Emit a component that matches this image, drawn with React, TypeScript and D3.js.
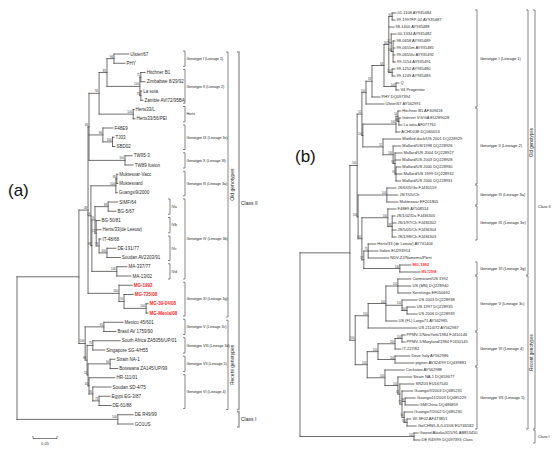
import React from "react";
import * as d3 from "d3";

type Row = [string, string, number, string?];

// ---------- Tree (a): [id, parent, depth (subst./site), bootstrap] ----------
const LEFT_TREE: Row[] = [
  ["root", "", 0],
  ["cII", "root", 0.129],
  ["Old", "cII", 0.148, "49"],
  ["U", "Old", 0.15, "46"],
  ["c91", "U", 0.171, "91"],
  ["GI_II", "c91", 0.1875, "85"],
  ["GI", "GI_II", 0.202, "96"],
  ["Ulster/67", "GI", 0.233],
  ["PHY", "GI", 0.225],
  ["GII", "GI_II", 0.256, "100"],
  ["GIIa", "GII", 0.258, "71"],
  ["Hitchner B1", "GIIa", 0.267],
  ["Zimbabwe 8/29/92", "GIIa", 0.267],
  ["GIIb", "GII", 0.258, "75"],
  ["La sota", "GIIb", 0.26],
  ["Zambie AVI72/95BA", "GIIb", 0.2625],
  ["Herts", "c91", 0.242, "100"],
  ["Herts33/L", "Herts", 0.244],
  ["Herts33/56/PEI", "Herts", 0.246],
  ["F48", "U", 0.179, "96"],
  ["F48E9", "F48", 0.2],
  ["TJSBD", "F48", 0.199, "100"],
  ["TJ03", "TJSBD", 0.202],
  ["SBD02", "TJSBD", 0.204],
  ["TW", "U", 0.225, "100"],
  ["TW95-3", "TW", 0.24],
  ["TW89 fusion", "TW", 0.242],
  ["Mid", "Old", 0.154, "19"],
  ["Mukt", "Mid", 0.206, "100"],
  ["MuktV", "Mukt", 0.208, "80"],
  ["Muktesvar-Vacc", "MuktV", 0.21],
  ["Muktesvard", "MuktV", 0.21],
  ["Guangxi9/2000", "Mukt", 0.209],
  ["G4", "Mid", 0.156, "98"],
  ["G4a", "G4", 0.1625, "19"],
  ["SB", "G4a", 0.19, "88"],
  ["SIMF/64", "SB", 0.21],
  ["BG-5/67", "SB", 0.206],
  ["G4b", "G4a", 0.165, "21"],
  ["BG-50/81", "G4b", 0.173],
  ["Herts/33(de Leeuw)", "G4b", 0.175],
  ["G4c", "G4b", 0.171, "79"],
  ["IT-48/68", "G4c", 0.175],
  ["G4d", "G4c", 0.1875, "100"],
  ["DE-191/77", "G4d", 0.206],
  ["Soudan AV2203/91", "G4d", 0.215],
  ["MA", "G4", 0.208, "100"],
  ["MA-337/77", "MA", 0.229],
  ["MA-13/02", "MA", 0.2375],
  ["MG", "Old", 0.2125, "100"],
  ["MG-1992", "MG", 0.24],
  ["MGb", "MG", 0.223, "55"],
  ["MG-725/08", "MGb", 0.242],
  ["MGc", "MGb", 0.269, "100"],
  ["MG-39-04/08", "MGc", 0.273],
  ["MG-Meola/08", "MGc", 0.273],
  ["Recent", "cII", 0.142, "100"],
  ["MexBra", "Recent", 0.181, "95"],
  ["Mexico 45/601", "MexBra", 0.221],
  ["Brasil AV 1759/90", "MexBra", 0.206],
  ["R2", "Recent", 0.146, "99"],
  ["SAS", "R2", 0.158, "75"],
  ["South Africa ZA5056/UP/01", "SAS", 0.215],
  ["Singapore SG-4/H55", "SAS", 0.183],
  ["R3", "R2", 0.148, "52"],
  ["NAB", "R3", 0.194, "90"],
  ["Strain NA-1", "NAB", 0.204],
  ["Botswana ZA145/UP/99", "NAB", 0.21],
  ["R4", "R3", 0.15, "40"],
  ["HR-111/01", "R4", 0.204],
  ["R5", "R4", 0.158, "76"],
  ["Soudan SD-4/75", "R5", 0.196],
  ["R6", "R5", 0.171, "73"],
  ["Egypt EG-3/87", "R6", 0.194],
  ["DE-61/88", "R6", 0.196],
  ["cI", "root", 0.21, "100"],
  ["DE R49/99", "cI", 0.242],
  ["GO1US", "cI", 0.242],
];
const LEFT_RED = ["MG-1992", "MG-725/08", "MG-39-04/08", "MG-Meola/08"];

// ---------- Tree (b) ----------
const RIGHT_TREE: Row[] = [
  ["root", "", 0],
  ["cII", "root", 0.104],
  ["Old", "cII", 0.119, "100"],
  ["Up", "Old", 0.129, "52"],
  ["GI0", "Up", 0.1375, "100"],
  ["GI1", "GI0", 0.15, "83"],
  ["GI2", "GI1", 0.175, "63"],
  ["AU", "GI2", 0.185, "100"],
  ["au1", "AU", 0.192, "94"],
  ["01-1108 AY935484", "au1", 0.2],
  ["99-1997FP-02 AY935487", "au1", 0.198],
  ["98-1400 AY935488", "AU", 0.196],
  ["au2", "AU", 0.19, "57"],
  ["00-1334 AY935482", "au2", 0.2],
  ["au3", "au2", 0.194, "100"],
  ["98-0658 AY935489", "au3", 0.198],
  ["99-0655m AY935485", "au3", 0.198],
  ["99-0655fu AY935492", "au3", 0.198],
  ["99-1154 AY935491", "au3", 0.199],
  ["au4", "AU", 0.192, "100"],
  ["99-1252 AY935480", "au4", 0.198],
  ["99-1249 AY935483", "au4", 0.198],
  ["QP", "GI2", 0.2, "100"],
  ["Q", "QP", 0.206],
  ["V4 Progenitor", "QP", 0.206],
  ["PHY DQ097394", "GI1", 0.1667],
  ["Ulster/67 AY562991", "GI0", 0.175],
  ["GII0", "Up", 0.131, "100"],
  ["LS", "GII0", 0.2, "100"],
  ["ls1", "LS", 0.204, "54"],
  ["Hitchner B1 AF309418", "ls1", 0.21],
  ["ls2", "ls1", 0.206, "96"],
  ["Intervet VG/GA EU289028", "ls2", 0.21],
  ["La sota AF077761", "ls2", 0.2125],
  ["ACHD038 DQ060053", "LS", 0.208],
  ["MD", "GII0", 0.173, "52"],
  ["Mottled duck/US 2001 DQ228929", "MD", 0.21],
  ["MG2", "MD", 0.194, "100"],
  ["Mallard/US/1998 DQ228926", "MG2", 0.21],
  ["mg3", "MG2", 0.198, "93"],
  ["Mallard/US 2004 DQ228927", "mg3", 0.2125],
  ["Mallard/US 2003 DQ228928", "mg3", 0.21],
  ["mg4", "mg3", 0.2, "81"],
  ["Mallard/US 2000 DQ228930", "mg4", 0.21],
  ["Mallard/US 1999 DQ228932", "mg4", 0.2125],
  ["Mallard/US 2000 DQ228931", "mg4", 0.21],
  ["Low", "Old", 0.121, "100"],
  ["GIII", "Low", 0.181, "100"],
  ["JS/6/05/Go FJ430159", "GIII", 0.2],
  ["JS/7/05/Ch", "GIII", 0.204],
  ["Mukteswar EF201805", "GIII", 0.204],
  ["IXIVXI", "Low", 0.129, "100"],
  ["IX", "IXIVXI", 0.183, "100"],
  ["F48E9 AY508514", "IX", 0.2],
  ["ix1", "IX", 0.192, "88"],
  ["JS/1/02/Du FJ436305", "ix1", 0.198],
  ["JS/1/97/Ch FJ436302", "ix1", 0.2],
  ["JS/5/05/Ch FJ436304", "ix1", 0.2],
  ["JS/1/98/Ch FJ436303", "ix1", 0.2],
  ["IVXI", "IXIVXI", 0.133, "57"],
  ["IV", "IVXI", 0.142, "75"],
  ["Herts/33 (de Leeuw) AY741404", "IV", 0.158],
  ["Italien EU293914", "IV", 0.1625],
  ["NDV-ZJ/Namema/Pleni", "IV", 0.185],
  ["XI", "IVXI", 0.208, "100"],
  ["MG-1992", "XI", 0.231],
  ["MG-725/08", "XI", 0.25],
  ["Recent", "cII", 0.115, "100"],
  ["GV", "Recent", 0.142, "100"],
  ["GVa", "GV", 0.179, "100"],
  ["CormG", "GVa", 0.204, "100"],
  ["Cormorant/US 1992", "CormG", 0.231],
  ["US (MN) DQ228940", "CormG", 0.231],
  ["Kershinga EF050692", "CormG", 0.231],
  ["USG", "GVa", 0.2125, "100"],
  ["US 2003 DQ228938", "USG", 0.244],
  ["us2", "USG", 0.223, "100"],
  ["US 1997 DQ228935", "us2", 0.24],
  ["US 2006 DQ228939", "us2", 0.244],
  ["US (FL) Largo71 AY562985", "GVa", 0.202],
  ["US 2114/72 AY562987", "GV", 0.244],
  ["R2", "Recent", 0.14, "100"],
  ["GVI", "R2", 0.1625, "100"],
  ["pp", "GVI", 0.198, "100"],
  ["ppa", "pp", 0.2125, "100"],
  ["PPMV-1/NewYork/1984 FJ410146", "ppa", 0.219],
  ["PPMV-1/Maryland/1984 FJ410145", "ppa", 0.219],
  ["IT-227/82", "pp", 0.21],
  ["dp", "GVI", 0.198, "100"],
  ["Dove Italy AY562986", "dp", 0.229],
  ["pigeon AV324/99 DQ439881", "dp", 0.2375],
  ["GVII", "R2", 0.177, "100"],
  ["Cockatoo AY562988", "GVII", 0.217],
  ["G7a", "GVII", 0.204, "100"],
  ["Strain NA-1 DQ659677", "G7a", 0.233],
  ["G7b", "G7a", 0.208, "62"],
  ["SRZ03 EU167540", "G7b", 0.2375],
  ["G7c", "G7b", 0.2125, "71"],
  ["Guangxi9/2003 DQ485231", "G7c", 0.235],
  ["G7d", "G7c", 0.219, "98"],
  ["Guangxi11/2003 DQ485229", "G7d", 0.24],
  ["GM/China DQ486859", "G7d", 0.246],
  ["G7e", "G7c", 0.217, "64"],
  ["Guangxi7/2002 DQ485230", "G7e", 0.235],
  ["G7f", "G7e", 0.223, "100"],
  ["VII SF02 AF473851", "G7f", 0.231],
  ["Go/CHN/LJL/L01/06 EU746582", "G7f", 0.242],
  ["cI", "root", 0.2375, "100"],
  ["Goose/Alaska/415/91 AB853450", "cI", 0.246],
  ["DE R49/99 DQ097393 Class", "cI", 0.25],
];
const RIGHT_RED = ["MG-1992", "MG-725/08"];

// brackets: [label, first leaf index, last leaf index]
const LEFT_GENOTYPES: [string, number, number][] = [
  ["Genotype I (Lineage 1)", 0, 1],
  ["Genotype II (Lineage 2)", 2, 5],
  ["Herts", 6, 7],
  ["Genotype IX (Lineage 3e)", 8, 10],
  ["Genotype X (Lineage 3f)", 11, 12],
  ["Genotype III (Lineage 3a)", 13, 15],
  ["Genotype IV (Lineage 3b)", 16, 24],
  ["Genotype XI (Lineage 3g)", 25, 28],
  ["Genotype V (Lineage 3c)", 29, 30],
  ["Genotype VIII (Lineage 3d)", 31, 32],
  ["Genotype VII (Lineage 5)", 33, 34],
  ["Genotype VI (Lineage 4)", 35, 38],
];
const LEFT_SUBTYPES: [string, number, number][] = [
  ["IVa", 16, 17],
  ["IVb", 18, 19],
  ["IVc", 20, 22],
  ["IVd", 23, 24],
];
const LEFT_GROUPS: [string, number, number][] = [
  ["Old genotypes", 0, 28],
  ["Recent genotypes", 29, 38],
];
const LEFT_CLASSES: [string, number, number][] = [
  ["Class II", 0, 38],
  ["Class I", 39, 40],
];
const RIGHT_GENOTYPES: [string, number, number][] = [
  ["Genotype I (Lineage 1)", 0, 13],
  ["Genotype II (Lineage 2)", 14, 24],
  ["Genotype III (Lineage 3a)", 25, 27],
  ["Genotype IX (Lineage 3e)", 28, 32],
  ["Genotype XI (Lineage 3g)", 36, 37],
  ["Genotype V (Lineage 3c)", 38, 45],
  ["Genotype VI (Lineage 4)", 46, 50],
  ["Genotype VII (Lineage 5)", 51, 59],
];
const RIGHT_GROUPS: [string, number, number][] = [
  ["Old genotypes", 0, 37],
  ["Recent genotypes", 38, 59],
];
const RIGHT_CLASSES: [string, number, number][] = [
  ["Class II", 0, 59],
  ["Class I", 60, 61],
];
const SCALE_BAR = 0.05;

const FONT = "Arial, 'Liberation Sans', sans-serif";
const LINE = "#4a4a4a";
const RED = "#ff2a2a";

function layoutTree(rows: Row[], x: any, y: any) {
  const root: any = d3
    .stratify<Row>()
    .id((d) => d[0])
    .parentId((d) => (d[1] === "" ? null : d[1]))(rows);
  const leaves = root.leaves();
  leaves.forEach((l: any, i: number) => {
    l.py = y(i);
  });
  root.eachAfter((n: any) => {
    n.px = x(n.data[2]);
    if (n.children) {
      n.py = (n.children[0].py + n.children[n.children.length - 1].py) / 2;
    }
  });
  return { root, leaves };
}

function Tree({ rows, x, y, red, fs, bfs, redSmall }: any) {
  const { root, leaves } = layoutTree(rows, x, y);
  const nodes: any[] = root.descendants();
  return (
    <g>
      {nodes
        .filter((n) => n.parent)
        .map((n, i) => (
          <line key={"h" + i} x1={n.parent.px} x2={n.px} y1={n.py} y2={n.py} stroke={LINE} strokeWidth={0.8} strokeLinecap="square" />
        ))}
      {nodes
        .filter((n) => n.children)
        .map((n, i) => (
          <line
            key={"v" + i}
            x1={n.px}
            x2={n.px}
            y1={n.children[0].py}
            y2={n.children[n.children.length - 1].py}
            stroke={LINE}
            strokeWidth={0.8}
            strokeLinecap="square"
          />
        ))}
      {nodes
        .filter((n) => n.children && n.data[3])
        .map((n, i) => (
          <text key={"b" + i} x={n.px - 0.8} y={n.py - 1} fontSize={bfs} textAnchor="end" fill="#333" fontFamily={FONT}>
            {n.data[3]}
          </text>
        ))}
      {leaves.map((l: any, i: number) => {
        const isRed = red.includes(l.data[0]);
        const small = redSmall && redSmall.includes(l.data[0]);
        return (
          <text
            key={"l" + i}
            x={l.px + 1.5}
            y={l.py + fs * 0.36}
            fontSize={small ? fs * 0.75 : fs}
            fontWeight={isRed ? "bold" : "normal"}
            fill={isRed ? RED : "#2a2a2a"}
            fontFamily={FONT}
          >
            {l.data[0]}
          </text>
        );
      })}
    </g>
  );
}

function Bracket({ x, y1, y2, label, fs, rotate, color = "#555", w = 0.7, tx, ty }: any) {
  const mid = (y1 + y2) / 2;
  return (
    <g>
      <path d={`M${x - 2},${y1}H${x}V${y2}H${x - 2}`} fill="none" stroke={color} strokeWidth={w} />
      {rotate ? (
        <text
          transform={`translate(${tx ?? x + 4},${mid}) rotate(-90)`}
          textAnchor="middle"
          fontSize={fs}
          fill="#222"
          fontFamily={FONT}
        >
          {label}
        </text>
      ) : (
        <text x={tx ?? x + 1.5} y={ty ?? mid + fs * 0.35} fontSize={fs} fill="#222" fontFamily={FONT}>
          {label}
        </text>
      )}
    </g>
  );
}

export default function App() {
  const xL = d3.scaleLinear().domain([0, 0.3]).range([17, 161]);
  const yL = d3.scaleLinear().domain([0, 40]).range([54, 424]);
  const xR = d3.scaleLinear().domain([0, 0.3]).range([300, 444]);
  const yR = d3.scaleLinear().domain([0, 61]).range([13, 440]);

  const sbX0 = 33;
  const sbX1 = sbX0 + (xL(SCALE_BAR) - xL(0));

  return (
    <svg width={557} height={449} style={{ position: "absolute", left: 0, top: 0, background: "#fff" }} fontFamily={FONT}>
      <rect width={557} height={449} fill="#fff" />
      <text x={8} y={196} fontSize={17} fill="#111" fontFamily={FONT}>(a)</text>
      <text x={295} y={162} fontSize={17} fill="#111" fontFamily={FONT}>(b)</text>

      <Tree rows={LEFT_TREE} x={xL} y={yL} red={LEFT_RED} fs={4.5} bfs={3} />
      <Tree rows={RIGHT_TREE} x={xR} y={yR} red={RIGHT_RED} redSmall={["MG-725/08"]} fs={4} bfs={2.6} />

      {/* scale bar */}
      <path d={`M${sbX0},${436}V${438.5}H${sbX1}V${436}`} fill="none" stroke={LINE} strokeWidth={0.7} />
      <text x={(sbX0 + sbX1) / 2} y={445} fontSize={4} textAnchor="middle" fill="#333">{SCALE_BAR.toFixed(2)}</text>

      {/* left brackets */}
      {LEFT_GENOTYPES.map(([lab, a, b], i) => (
        <Bracket key={"lg" + i} x={185} y1={yL(a) - 3} y2={yL(b) + 3} label={lab} fs={3.6} />
      ))}
      {LEFT_SUBTYPES.map(([lab, a, b], i) => (
        <Bracket key={"ls" + i} x={170} y1={yL(a) - 3} y2={yL(b) + 3} label={lab} fs={3.6} />
      ))}
      {LEFT_GROUPS.map(([lab, a, b], i) => (
        <Bracket key={"lo" + i} x={228} y1={yL(a) - 2} y2={yL(b) + 4} label={lab} fs={5} rotate tx={234} />
      ))}
      <Bracket x={239} y1={yL(LEFT_CLASSES[0][1]) - 2} y2={yL(LEFT_CLASSES[0][2]) + 4} label={LEFT_CLASSES[0][0]} fs={5} color="#999" w={1.4} tx={241} ty={205} />
      <Bracket x={239} y1={yL(LEFT_CLASSES[1][1]) - 3} y2={yL(LEFT_CLASSES[1][2]) + 3} label={LEFT_CLASSES[1][0]} fs={5} color="#999" w={1.4} tx={241} />

      {/* right brackets */}
      {RIGHT_GENOTYPES.map(([lab, a, b], i) => (
        <Bracket key={"rg" + i} x={477} y1={yR(a) - 3} y2={yR(b) + 3} label={lab} fs={4} tx={480} />
      ))}
      {RIGHT_GROUPS.map(([lab, a, b], i) => (
        <Bracket key={"ro" + i} x={528} y1={yR(a) - 3} y2={yR(b) + 3} label={lab} fs={4.5} rotate tx={533} />
      ))}
      <Bracket x={535} y1={yR(RIGHT_CLASSES[0][1]) - 3} y2={yR(RIGHT_CLASSES[0][2]) + 3} label={RIGHT_CLASSES[0][0]} fs={3.8} color="#777" w={0.9} tx={538} ty={208} />
      <Bracket x={535} y1={yR(RIGHT_CLASSES[1][1]) - 3} y2={yR(RIGHT_CLASSES[1][2]) + 3} label={RIGHT_CLASSES[1][0]} fs={3.8} color="#777" w={0.9} tx={538} />
    </svg>
  );
}
